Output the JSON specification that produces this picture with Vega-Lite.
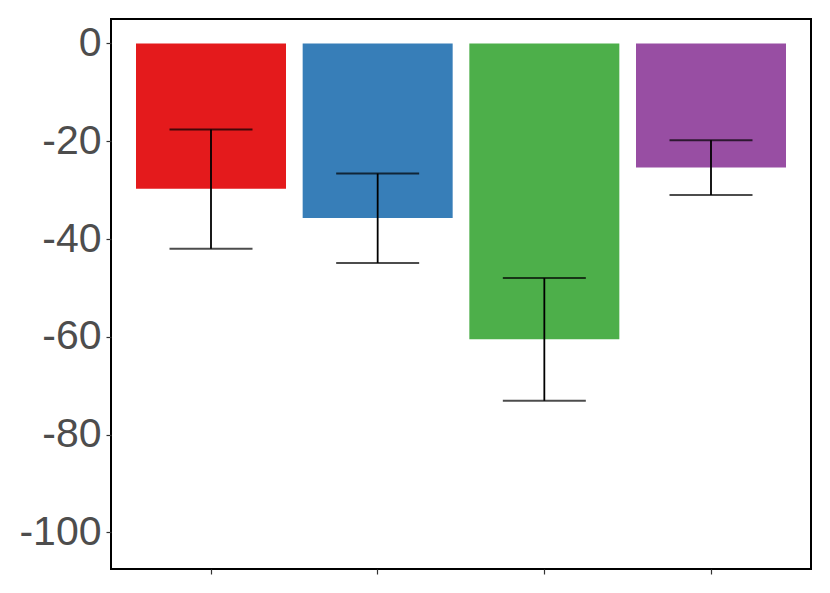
{
  "$schema": "https://vega.github.io/schema/vega-lite/v6.json",
  "width": 700,
  "height": 550,
  "autosize": "none",
  "padding": {"left": 111, "top": 19, "right": 19, "bottom": 24},
  "data": {
    "values": [
      {"group": "A", "mean": -29.7, "lo": -42.0, "hi": -17.6},
      {"group": "B", "mean": -35.7, "lo": -44.9, "hi": -26.6},
      {"group": "C", "mean": -60.5, "lo": -73.1, "hi": -48.0},
      {"group": "D", "mean": -25.4, "lo": -31.0, "hi": -19.8}
    ]
  },
  "config": {
    "view": {"stroke": "black", "strokeWidth": 2},
    "axis": {"grid": false, "domain": false, "tickColor": "#333333", "tickSize": 5, "tickWidth": 1.2, "labelFont": "Liberation Sans", "labelColor": "#4D4D4D", "title": null}
  },
  "encoding": {
    "x": {
      "field": "group", "type": "nominal",
      "scale": {"paddingInner": 0.1, "paddingOuter": 0.15},
      "axis": {"labels": false, "ticks": true, "title": null}
    }
  },
  "layer": [
    {
      "mark": {"type": "bar"},
      "encoding": {
        "y": {"field": "mean", "type": "quantitative",
          "scale": {"domain": [-107.5, 5], "nice": false, "zero": false},
          "axis": {"values": [-100, -80, -60, -40, -20, 0], "labelExpr": "toString(datum.value)", "labelFontSize": 41, "labelPadding": 5, "title": null}},
        "y2": {"datum": 0},
        "color": {"field": "group", "type": "nominal",
          "scale": {"range": ["#E41A1C", "#377EB8", "#4DAF4A", "#984EA3"]},
          "legend": null}
      }
    },
    {
      "mark": {"type": "rule", "color": "black", "strokeWidth": 1.8},
      "encoding": {
        "y": {"field": "lo", "type": "quantitative"},
        "y2": {"field": "hi"}
      }
    },
    {
      "mark": {"type": "tick", "color": "black", "size": 83, "thickness": 2},
      "encoding": {"y": {"field": "lo", "type": "quantitative"}}
    },
    {
      "mark": {"type": "tick", "color": "black", "size": 83, "thickness": 2},
      "encoding": {"y": {"field": "hi", "type": "quantitative"}}
    }
  ]
}
